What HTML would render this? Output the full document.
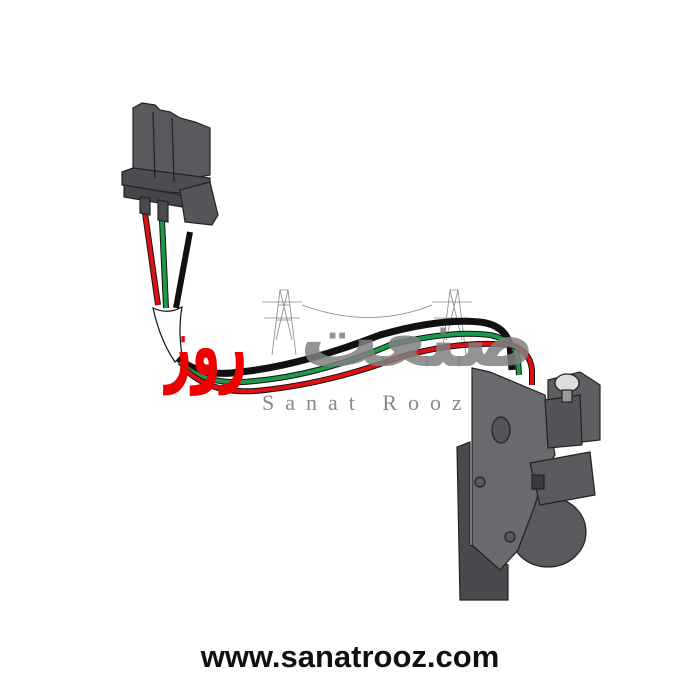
<!DOCTYPE html>
<html><head><meta charset="utf-8"><style>
html,body{margin:0;padding:0;background:#fff;}
svg{display:block}
</style></head><body>
<svg width="700" height="700" viewBox="0 0 700 700" xmlns="http://www.w3.org/2000/svg">
<rect width="700" height="700" fill="#fff"/>
<g stroke="#888" stroke-width="0.8" fill="none">
<path d="M272 355 L280 290 L288 290 L296 355 M276 320 L292 320 M278 305 L290 305 M262 302 L302 302 M264 318 L300 318 M280 290 L292 340 M288 290 L276 340"/>
<path d="M442 355 L450 290 L458 290 L466 355 M446 320 L462 320 M432 302 L472 302 M434 318 L470 318 M450 290 L462 340 M458 290 L446 340"/>
<path d="M302 305 Q370 330 432 305"/>
</g>
<path d="M145 213 L158 305" stroke="#111" stroke-width="6" fill="none"/>
<path d="M145 213 L158 305" stroke="#d11" stroke-width="4" fill="none"/>
<path d="M162 220 L166 308" stroke="#111" stroke-width="6" fill="none"/>
<path d="M162 220 L166 308" stroke="#1a9a4a" stroke-width="4" fill="none"/>
<path d="M190 232 L176 308" stroke="#111" stroke-width="6" fill="none"/>
<path d="M153 308 Q168 315 182 307 Q178 330 182 355 L175 362 Q160 340 153 308Z" fill="#fff" stroke="#111" stroke-width="1.2"/>
<path d="M178 358 Q200 378 240 372 Q300 366 380 335 Q440 318 480 322 Q505 325 510 345 L512 370" stroke="#111" stroke-width="7" fill="none"/>
<path d="M180 362 Q205 387 255 381 Q320 375 390 345 Q450 330 490 335 Q515 340 518 360 L519 375" stroke="#111" stroke-width="6" fill="none"/>
<path d="M180 362 Q205 387 255 381 Q320 375 390 345 Q450 330 490 335 Q515 340 518 360 L519 375" stroke="#1a9a4a" stroke-width="4" fill="none"/>
<path d="M182 366 Q210 397 265 390 Q330 383 400 357 Q460 340 510 345 Q530 350 532 370 L532 385" stroke="#111" stroke-width="6" fill="none"/>
<path d="M182 366 Q210 397 265 390 Q330 383 400 357 Q460 340 510 345 Q530 350 532 370 L532 385" stroke="#d11" stroke-width="4" fill="none"/>
<g stroke="#222" stroke-width="1.2" fill="#5a5a5e">
<polygon points="133,108 142,103 155,105 160,110 170,112 180,118 195,122 210,128 210,175 182,180 155,178 133,170"/>
<polygon points="122,172 133,168 210,178 210,195 165,192 122,185" fill="#4d4d51"/>
<polygon points="124,185 200,198 200,210 124,197" fill="#45454a"/>
<polygon points="180,190 210,182 218,215 212,225 185,222" fill="#55555a"/>
<polygon points="140,197 150,198 150,215 140,213" fill="#4a4a4e"/>
<polygon points="158,200 168,202 168,222 158,220" fill="#4a4a4e"/>
<line x1="153" y1="112" x2="155" y2="178"/>
<line x1="172" y1="118" x2="174" y2="182"/>
</g>
<g stroke="#222" stroke-width="1.2">
<polygon points="457,447 470,442 470,545 508,565 508,600 460,600" fill="#4a4a4e"/>
<ellipse cx="548" cy="532" rx="38" ry="35" fill="#5a5a5e"/>
<polygon points="472,368 490,372 545,395 555,455 545,470 535,505 518,550 500,570 472,545" fill="#6a6a6e"/>
<polygon points="548,380 580,372 600,385 600,440 555,445 548,420" fill="#5f5f63"/>
<polygon points="545,400 580,395 582,445 548,448" fill="#545458"/>
<polygon points="530,463 590,452 595,495 540,505" fill="#5a5a5e"/>
<rect x="532" y="475" width="12" height="14" fill="#3a3a3e"/>
<ellipse cx="501" cy="430" rx="9" ry="13" fill="#555559"/>
<circle cx="480" cy="482" r="5" fill="#5a5a5e"/>
<circle cx="510" cy="537" r="5" fill="#5a5a5e"/>
<ellipse cx="567" cy="383" rx="12" ry="9" fill="#ddd"/>
<rect x="562" y="390" width="10" height="12" fill="#999"/>
</g>
<text x="535" y="366" font-family="'DejaVu Sans',sans-serif" font-size="80" font-weight="bold" fill="#808080" fill-opacity="0.85" text-anchor="end" textLength="235" lengthAdjust="spacingAndGlyphs">صنعت</text>
<text x="165" y="375" font-family="'DejaVu Sans',sans-serif" font-size="85" font-weight="bold" fill="#ee0000" text-anchor="start" textLength="82" lengthAdjust="spacingAndGlyphs">روز</text>
<text x="262" y="410" font-family="'Liberation Serif',serif" font-size="22" fill="#888" letter-spacing="11">Sanat Rooz</text>
<text x="350" y="667" font-family="'Liberation Sans',sans-serif" font-size="31" font-weight="bold" fill="#111" text-anchor="middle">www.sanatrooz.com</text>
</svg>
</body></html>
